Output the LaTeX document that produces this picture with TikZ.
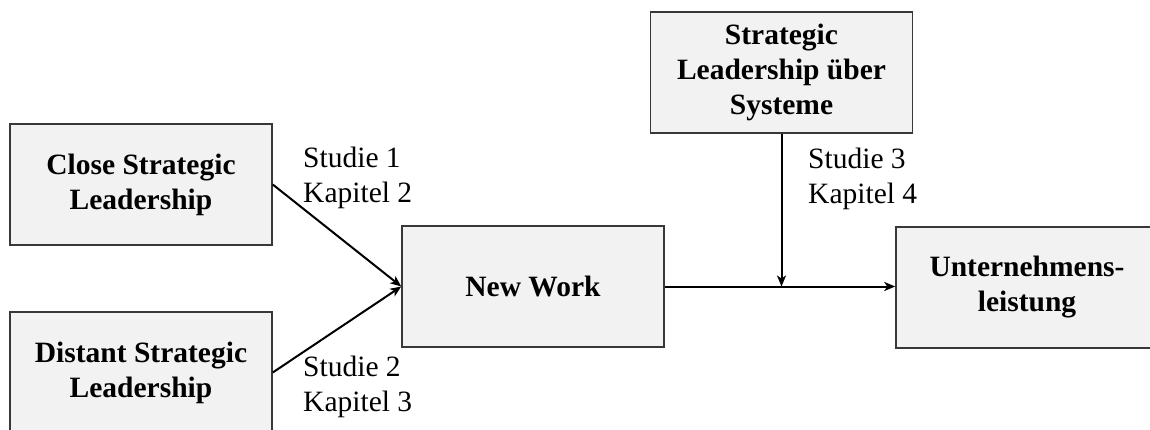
\documentclass[tikz,border=0pt]{standalone}
\usepackage{fontspec}
\setmainfont{Liberation Serif}
\usetikzlibrary{arrows.meta}
\begin{document}
\begin{tikzpicture}[x=1pt,y=-1pt,
  box/.style={draw=black!78, fill=black!5, line width=1.5pt,
    minimum width=262pt, minimum height=121pt, inner sep=0pt,
    align=center, font=\fontsize{29.5}{35}\selectfont\bfseries},
  lbl/.style={anchor=north west, inner sep=0pt, align=left,
    font=\fontsize{29.5}{35}\selectfont},
  link/.style={line width=2pt, -{Stealth[length=11pt,width=9pt,inset=3pt]}}]
  \useasboundingbox (0,0) rectangle (1150,430);
  \begin{scope}
    \clip (0,0) rectangle (1150,430);
    \node[box] (close)   at (141,184.5) {Close Strategic\\Leadership};
    \node[box] (distant) at (141,372.5) {Distant Strategic\\Leadership};
    \node[box] (nw)      at (533,286.5) {New Work};
    \node[box] (sys)     at (781.5,72.5) {Strategic\\Leadership über\\Systeme};
    \node[box] (perf)    at (1027,287.5) {Unternehmens-\\leistung};
    \coordinate (joint) at (781.5,286.5);
    \draw[link] (close.east) -- (nw.west);
    \draw[link] (distant.east) -- (nw.west);
    \draw[link] (nw.east) -- (perf.west |- nw.east);
    \draw[link] (sys.south) -- (joint);
    \node[lbl] (s1) at (303,147) {Studie 1\\Kapitel 2};
    \node[lbl] (s2) at (303,356) {Studie 2\\Kapitel 3};
    \node[lbl] (s3) at (808,148) {Studie 3\\Kapitel 4};
  \end{scope}
\end{tikzpicture}
\end{document}
